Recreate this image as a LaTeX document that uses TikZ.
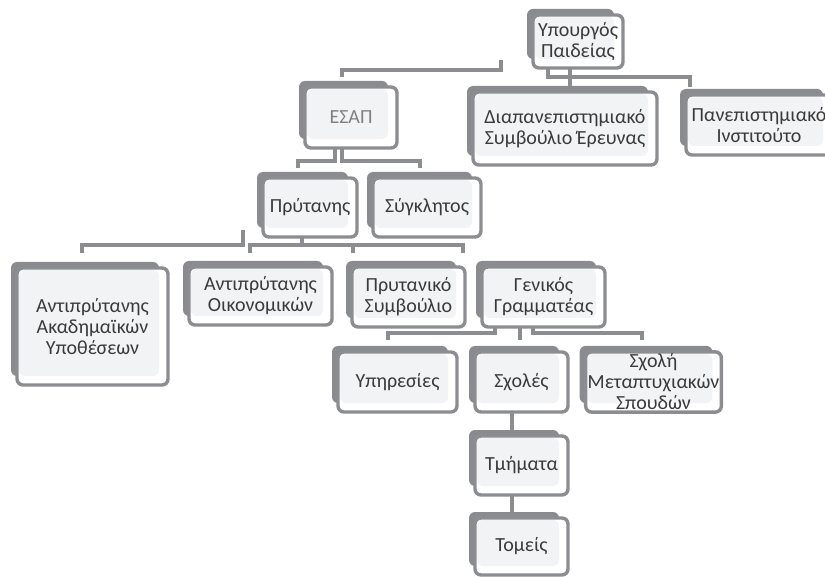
\documentclass[tikz,border=0pt]{standalone}
\usepackage{fontspec}
\setmainfont{Carlito}
\usetikzlibrary{backgrounds}

\definecolor{linegray}{HTML}{8C8D90}
\definecolor{backgray}{HTML}{8A8B8E}
\definecolor{boxfill}{HTML}{F2F3F5}
\definecolor{textgray}{HTML}{3A3A3A}

\tikzset{
  orgbox/.style={draw=linegray, line width=1.7pt, rounded corners=3pt, fill=white,
    inner sep=1pt, outer sep=0pt, align=center, text=textgray,
    font=\fontsize{10}{10.5}\selectfont,
    path picture={\fill[boxfill] ([shift={(1pt,-1pt)}]path picture bounding box.north west)
      rectangle ([shift={(-4.5pt,4.5pt)}]path picture bounding box.south east);}},
  link/.style={draw=linegray, line width=2pt},
}

\begin{document}
\begin{tikzpicture}[x=0.5pt, y=-0.5pt]
  \useasboundingbox (0,0) rectangle (825,577);

  \node[orgbox, minimum width=45pt, minimum height=26.5pt] (minister) at (578,41.5) {Υπουργός\\Παιδείας};
  \node[orgbox, minimum width=46pt, minimum height=30.5pt, text=gray] (esap) at (351,117.5) {ΕΣΑΠ};
  \node[orgbox, minimum width=92pt, minimum height=36.5pt] (research) at (565,128.5) {Διαπανεπιστημιακό\\Συμβούλιο Έρευνας};
  \node[orgbox, minimum width=73pt, minimum height=30pt] (institute) at (759,125) {Πανεπιστημιακό\\Ινστιτούτο};
  \node[orgbox, minimum width=47pt, minimum height=29.5pt] (rector) at (310,207.5) {Πρύτανης};
  \node[orgbox, minimum width=54pt, minimum height=29.5pt] (senate) at (427,207.5) {Σύγκλητος};
  \node[orgbox, minimum width=75.5pt, minimum height=58.5pt] (vracad) at (92.5,326.5) {Αντιπρύτανης\\Ακαδημαϊκών\\Υποθέσεων};
  \node[orgbox, minimum width=71.5pt, minimum height=29pt] (vrfin) at (260.5,296) {Αντιπρύτανης\\Οικονομικών};
  \node[orgbox, minimum width=56.5pt, minimum height=30pt] (council) at (408.5,297) {Πρυτανικό\\Συμβούλιο};
  \node[orgbox, minimum width=61.5pt, minimum height=30pt] (secretary) at (543.5,297) {Γενικός\\Γραμματέας};
  \node[orgbox, minimum width=59.5pt, minimum height=30pt] (services) at (397.5,382) {Υπηρεσίες};
  \node[orgbox, minimum width=46.5pt, minimum height=30pt] (schools) at (521.5,382) {Σχολές};
  \node[orgbox, minimum width=66.5pt, minimum height=30pt] (gradschool) at (653.5,382) {Σχολή\\Μεταπτυχιακών\\Σπουδών};
  \node[orgbox, minimum width=46.5pt, minimum height=29.5pt] (depts) at (521.5,465.5) {Τμήματα};
  \node[orgbox, minimum width=46.5pt, minimum height=28.5pt] (sections) at (521.5,546.5) {Τομείς};

  \begin{scope}[on background layer]
    % connectors
    \coordinate (m1) at (501,60);
    \draw[link] (m1) -- ++(0,10) -| ([shift={(-4.5pt,5pt)}]esap.north);
    \draw[link] ([xshift=-15pt]minister.south) -- ++(0,9) -| ([shift={(-34.5pt,4pt)}]institute.north);
    \draw[link] ([xshift=-4pt]minister.south) -- ([xshift=-4pt]minister.south |- research.north);
    \draw[link] ([xshift=-8pt]esap.south) -- ++(0,13) -| ([shift={(-6pt,5pt)}]rector.north);
    \draw[link] ([xshift=-4.5pt]esap.south) -- ++(0,13) -| ([shift={(-3.5pt,5pt)}]senate.north);
    \draw[link] ([shift={(-10pt,3.5pt)}]rector.south west) -- ++(0,15) -| ([shift={(-5.25pt,7.5pt)}]vracad.north);
    \draw[link] ([xshift=-4pt]rector.south) -- ++(0,8) -| ([shift={(-5.25pt,7pt)}]vrfin.north);
    \draw[link] ([xshift=-4pt]rector.south) -- ++(0,8) -| ([shift={(-27.75pt,7pt)}]council.north);
    \draw[link] ([xshift=-4pt]rector.south) -- ++(0,8) -| ([shift={(-40.25pt,7pt)}]secretary.north);
    \draw[link] ([xshift=-24.25pt]secretary.south) -- ++(0,6) -| ([shift={(-4.75pt,6pt)}]services.north);
    \draw[link] ([xshift=-11.75pt]secretary.south) -- ([shift={(-0.75pt,6pt)}]schools.north);
    \draw[link] ([xshift=-5.25pt]secretary.south) -- ++(0,6) -| ([shift={(-5.75pt,6pt)}]gradschool.north);
    \draw[link] ([xshift=-4.75pt]schools.south) -- ([xshift=-4.75pt]depts.north);
    \draw[link] ([xshift=-4.75pt]depts.south) -- ([xshift=-4.75pt]sections.north);
    % back boxes
    \foreach \n in {minister,esap,research,institute,rector,senate,vracad,vrfin,council,secretary,services,schools,gradschool,depts,sections}
      \fill[backgray, rounded corners=3pt] ([shift={(-3pt,3pt)}]\n.north west) rectangle ([shift={(-4.5pt,4.5pt)}]\n.south east);
  \end{scope}
\end{tikzpicture}
\end{document}
